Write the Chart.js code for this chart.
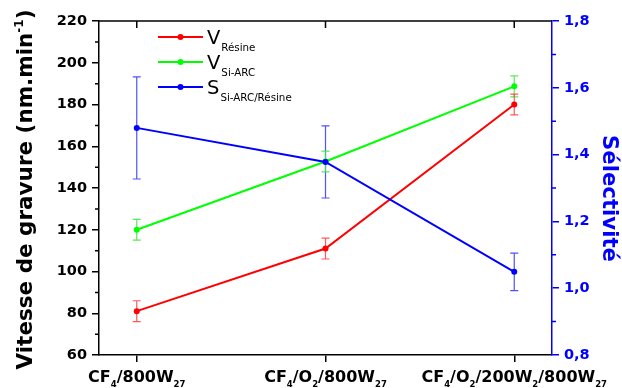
<!DOCTYPE html>
<html><head><meta charset="utf-8">
<script src="https://cdn.jsdelivr.net/npm/chart.js@4"></script>
<style>html,body{margin:0;padding:0;background:#fff}#w{width:622px;height:388px;position:relative}</style>
</head><body><div id="w"><canvas id="c" width="622" height="388"></canvas></div>
<script>
// ---- data ----
const categories = ["CF_{4}/800W_{27}", "CF_{4}/O_{2}/800W_{27}", "CF_{4}/O_{2}/200W_{2}/800W_{27}"];
const vResine = [81, 111, 180];
const vResineErr = [5, 5, 5];
const vSiArc = [120, 152.7, 188.7];
const vSiArcErr = [5, 5, 5];
const selectivite = [1.48, 1.378, 1.049];
const selectiviteErr = [0.153, 0.108, 0.056];
const leftTicks = [60, 80, 100, 120, 140, 160, 180, 200, 220];
const leftMinor = [70, 90, 110, 130, 150, 170, 190, 210];
const rightTicks = [0.8, 1.0, 1.2, 1.4, 1.6, 1.8];
const rightMinor = [0.9, 1.1, 1.3, 1.5, 1.7];
const seriesNames = [["V", "Résine"], ["V", "Si-ARC"], ["S", "Si-ARC/Résine"]];
const leftTitle = ["Vitesse de gravure (nm.min", "-1", ")"];
const rightTitle = "Sélectivité";

const FONT = "'DejaVu Sans', sans-serif";
const RED = '#ff0000', GREEN = '#00ff00', BLUE = '#0000ff';

function parseSub(s) {
  const parts = [];
  const re = /_\{([^}]*)\}/g;
  let last = 0, m;
  while ((m = re.exec(s))) {
    if (m.index > last) parts.push([s.slice(last, m.index), false]);
    parts.push([m[1], true]);
    last = re.lastIndex;
  }
  if (last < s.length) parts.push([s.slice(last), false]);
  return parts;
}

const pts = arr => arr.map((v, i) => ({x: i, y: v}));

const custom = {
  id: 'custom',
  beforeDatasetsDraw(chart) {
    const ctx = chart.ctx;
    chart.data.datasets.forEach((ds, di) => {
      const meta = chart.getDatasetMeta(di);
      const ys = chart.scales[ds.yAxisID];
      ctx.save();
      ctx.strokeStyle = ds.errColor;
      ctx.lineWidth = 1.2;
      ds.errors.forEach((e, i) => {
        const x = meta.data[i].x;
        const v = ds.data[i].y;
        const yt = ys.getPixelForValue(v + e), yb = ys.getPixelForValue(v - e);
        ctx.beginPath();
        ctx.moveTo(x, yt); ctx.lineTo(x, yb);
        ctx.moveTo(x - 4, yt); ctx.lineTo(x + 4, yt);
        ctx.moveTo(x - 4, yb); ctx.lineTo(x + 4, yb);
        ctx.stroke();
      });
      ctx.restore();
    });
  },
  afterDraw(chart) {
    const ctx = chart.ctx;
    const a = chart.chartArea;
    const xs = chart.scales.x, yl = chart.scales.y, yr = chart.scales.y2;
    ctx.save();
    // top frame line and ticks
    ctx.strokeStyle = '#000'; ctx.lineWidth = 1.5;
    ctx.beginPath();
    ctx.moveTo(a.left, a.top); ctx.lineTo(a.right, a.top);
    categories.forEach((c, i) => {
      const x = xs.getPixelForValue(i);
      ctx.moveTo(x, a.top); ctx.lineTo(x, a.top + 7);
    });
    ctx.stroke();
    // minor ticks
    ctx.beginPath();
    leftMinor.forEach(v => { const y = yl.getPixelForValue(v); ctx.moveTo(a.left - 4, y); ctx.lineTo(a.left, y); });
    ctx.stroke();
    ctx.strokeStyle = BLUE;
    ctx.beginPath();
    rightMinor.forEach(v => { const y = yr.getPixelForValue(v); ctx.moveTo(a.right, y); ctx.lineTo(a.right + 4, y); });
    ctx.stroke();

    // x labels with subscripts
    ctx.fillStyle = '#000';
    ctx.textBaseline = 'alphabetic';
    ctx.textAlign = 'left';
    const mainF = 'bold 16px ' + FONT, subF = 'bold 8.5px ' + FONT;
    categories.forEach((c, i) => {
      const parts = parseSub(c);
      let w = 0;
      parts.forEach(p => { ctx.font = p[1] ? subF : mainF; w += ctx.measureText(p[0]).width; });
      let x = xs.getPixelForValue(i) - w / 2;
      parts.forEach(p => {
        ctx.font = p[1] ? subF : mainF;
        ctx.fillText(p[0], x, p[1] ? 387 : 382);
        x += ctx.measureText(p[0]).width;
      });
    });

    // left title (rotated)
    ctx.save();
    ctx.translate(32, 189.5);
    ctx.rotate(-Math.PI / 2);
    const tF = 'bold 21.5px ' + FONT, sF = 'bold 12px ' + FONT;
    ctx.font = tF; const w1 = ctx.measureText(leftTitle[0]).width, w3 = ctx.measureText(leftTitle[2]).width;
    ctx.font = sF; const w2 = ctx.measureText(leftTitle[1]).width;
    let x0 = -(w1 + w2 + w3) / 2;
    ctx.fillStyle = '#000';
    ctx.font = tF; ctx.fillText(leftTitle[0], x0, 0); x0 += w1;
    ctx.font = sF; ctx.fillText(leftTitle[1], x0, -9); x0 += w2;
    ctx.font = tF; ctx.fillText(leftTitle[2], x0, 0);
    ctx.restore();

    // right title (rotated clockwise)
    ctx.save();
    ctx.translate(603, 198.5);
    ctx.rotate(Math.PI / 2);
    ctx.font = 'bold 21.2px ' + FONT;
    ctx.fillStyle = BLUE;
    ctx.textAlign = 'center';
    ctx.fillText(rightTitle, 0, 0);
    ctx.restore();

    // legend
    const legendColors = [RED, GREEN, BLUE];
    seriesNames.forEach((n, i) => {
      const y = 37 + i * 25;
      ctx.strokeStyle = legendColors[i]; ctx.lineWidth = 2;
      ctx.beginPath(); ctx.moveTo(158, y); ctx.lineTo(203, y); ctx.stroke();
      ctx.fillStyle = legendColors[i];
      ctx.beginPath(); ctx.arc(180.5, y, 3, 0, Math.PI * 2); ctx.fill();
      ctx.fillStyle = '#000';
      ctx.textAlign = 'left';
      ctx.font = '19.5px ' + FONT;
      ctx.fillText(n[0], 207, y + 7);
      const vw = ctx.measureText(n[0]).width;
      ctx.font = '10.3px ' + FONT;
      ctx.fillText(n[1], 207 + vw + 1, y + 14);
    });
    ctx.restore();
  }
};

new Chart(document.getElementById('c'), {
  type: 'line',
  data: {
    datasets: [
      {label: 'S', data: pts(selectivite), yAxisID: 'y2', borderColor: BLUE, backgroundColor: BLUE,
       borderWidth: 2, pointRadius: 3, pointBorderWidth: 0, order: 0, errors: selectiviteErr, errColor: 'rgba(50,50,255,0.85)'},
      {label: 'V Si-ARC', data: pts(vSiArc), yAxisID: 'y', borderColor: GREEN, backgroundColor: GREEN,
       borderWidth: 2, pointRadius: 3, pointBorderWidth: 0, order: 1, errors: vSiArcErr, errColor: 'rgba(60,230,60,0.85)'},
      {label: 'V Résine', data: pts(vResine), yAxisID: 'y', borderColor: RED, backgroundColor: RED,
       borderWidth: 2, pointRadius: 3, pointBorderWidth: 0, order: 2, errors: vResineErr, errColor: 'rgba(255,60,60,0.85)'}
    ]
  },
  options: {
    responsive: false, animation: false, devicePixelRatio: 1,
    layout: {padding: {top: 21, left: 0, right: 0, bottom: 0}},
    plugins: {legend: {display: false}, tooltip: {enabled: false}},
    scales: {
      x: {type: 'linear', position: 'bottom', min: -0.2, max: 2.2,
        afterBuildTicks: s => { s.ticks = categories.map((c, i) => ({value: i})); },
        ticks: {display: false},
        grid: {drawOnChartArea: false, drawTicks: true, tickLength: 7, color: '#000', lineWidth: 1.5},
        border: {color: '#000', width: 1.5},
        afterFit: s => { s.height = 33; }},
      y: {type: 'linear', position: 'left', min: 60, max: 220,
        afterBuildTicks: s => { s.ticks = leftTicks.map(v => ({value: v})); },
        ticks: {font: {family: FONT, weight: 'bold', size: 14.5}, color: '#000', padding: 5},
        grid: {drawOnChartArea: false, tickLength: 7, color: '#000', lineWidth: 1.5},
        border: {color: '#000', width: 1.5},
        afterFit: s => { s.width = 99; s.paddingTop = 0; s.paddingBottom = 0; }},
      y2: {type: 'linear', position: 'right', min: 0.8, max: 1.8,
        afterBuildTicks: s => { s.ticks = rightTicks.map(v => ({value: v})); },
        ticks: {font: {family: FONT, weight: 'bold', size: 14.5}, color: BLUE, padding: 5,
          callback: v => v.toFixed(1).replace('.', ',')},
        grid: {drawOnChartArea: false, tickLength: 7, color: BLUE, lineWidth: 1.5},
        border: {color: BLUE, width: 1.5},
        afterFit: s => { s.width = 70; s.paddingTop = 0; s.paddingBottom = 0; }}
    }
  },
  plugins: [custom]
});
</script>
</body></html>
